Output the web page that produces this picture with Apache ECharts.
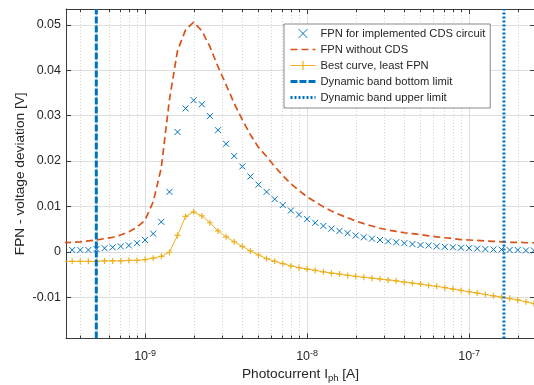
<!DOCTYPE html>
<html><head><meta charset="utf-8">
<script src="https://cdn.jsdelivr.net/npm/echarts@6/dist/echarts.min.js"></script>
<style>html,body{margin:0;padding:0;background:#fff}#c{width:534px;height:385px}</style>
</head><body><div id="c"></div>
<script>
// Photocurrent values (A), one every 0.05 decade
const currents = [
  3.162e-10, 3.548e-10, 3.981e-10, 4.467e-10, 5.012e-10, 5.623e-10, 6.310e-10, 7.079e-10, 7.943e-10, 8.913e-10,
  1.000e-9, 1.122e-9, 1.259e-9, 1.413e-9, 1.585e-9, 1.778e-9, 1.995e-9, 2.239e-9, 2.512e-9, 2.818e-9,
  3.162e-9, 3.548e-9, 3.981e-9, 4.467e-9, 5.012e-9, 5.623e-9, 6.310e-9, 7.079e-9, 7.943e-9, 8.913e-9,
  1.000e-8, 1.122e-8, 1.259e-8, 1.413e-8, 1.585e-8, 1.778e-8, 1.995e-8, 2.239e-8, 2.512e-8, 2.818e-8,
  3.162e-8, 3.548e-8, 3.981e-8, 4.467e-8, 5.012e-8, 5.623e-8, 6.310e-8, 7.079e-8, 7.943e-8, 8.913e-8,
  1.000e-7, 1.122e-7, 1.259e-7, 1.413e-7, 1.585e-7, 1.778e-7, 1.995e-7, 2.239e-7, 2.512e-7, 2.818e-7
];
const fpnCDS = [
  0.0004, 0.0004, 0.0004, 0.0004, 0.0006, 0.0008, 0.0010, 0.0012, 0.0014, 0.0019,
  0.0026, 0.0040, 0.0066, 0.0132, 0.0264, 0.0316, 0.0334, 0.0325, 0.0299, 0.0268,
  0.0238, 0.0211, 0.0188, 0.0166, 0.0148, 0.0132, 0.0116, 0.0103, 0.0091, 0.0082,
  0.0072, 0.0064, 0.0057, 0.0051, 0.0046, 0.0041, 0.0036, 0.0032, 0.0029, 0.0026,
  0.0023, 0.0021, 0.0019, 0.0017, 0.0015, 0.0014, 0.0012, 0.0011, 0.0010, 0.0009,
  0.0008, 0.0007, 0.0006, 0.0005, 0.0005, 0.0004, 0.0004, 0.0003, 0.0003, 0.0003
];
const fpnNoCDS = [
  0.0020, 0.0021, 0.0022, 0.0024, 0.0026, 0.0029, 0.0032, 0.0037, 0.0044, 0.0054,
  0.0070, 0.0110, 0.0185, 0.0335, 0.0443, 0.0489, 0.0506, 0.0487, 0.0452, 0.0408,
  0.0368, 0.0327, 0.0291, 0.0258, 0.0230, 0.0210, 0.0188, 0.0168, 0.0150, 0.0135,
  0.0121, 0.0110, 0.0099, 0.0090, 0.0082, 0.0075, 0.0068, 0.0062, 0.0057, 0.0052,
  0.0048, 0.0045, 0.0042, 0.0040, 0.0038, 0.0035, 0.0033, 0.0031, 0.0029, 0.0027,
  0.0026, 0.0025, 0.0024, 0.0023, 0.0022, 0.0021, 0.0021, 0.0020, 0.0020, 0.0019
];
const fpnBest = [
  -0.0021, -0.0021, -0.0021, -0.0021, -0.0021, -0.0020, -0.0020, -0.0020, -0.0019, -0.0019,
  -0.0017, -0.0014, -0.0010, -0.0001, 0.0036, 0.0078, 0.0088, 0.0079, 0.0064, 0.0046,
  0.0033, 0.0022, 0.0012, 0.0002, -0.0007, -0.0015, -0.0021, -0.0026, -0.0031, -0.0035,
  -0.0038, -0.0041, -0.0044, -0.0047, -0.0049, -0.0052, -0.0054, -0.0056, -0.0058, -0.0060,
  -0.0062, -0.0064, -0.0067, -0.0069, -0.0071, -0.0074, -0.0076, -0.0079, -0.0082, -0.0085,
  -0.0088, -0.0091, -0.0094, -0.0097, -0.0100, -0.0103, -0.0106, -0.0110, -0.0114, -0.0118
];
const bandBottom = 5e-10;
const bandUpper = 1.64e-7;
const seriesNames = [
  'FPN for implemented CDS circuit',
  'FPN without CDS',
  'Best curve, least FPN',
  'Dynamic band bottom limit',
  'Dynamic band upper limit'
];
const xLimits = [3.25e-10, 2.55e-7];
const yLimits = [-0.0191, 0.0535];
const xMajorTicks = [1e-9, 1e-8, 1e-7];
const xMinorTicks = [4e-10, 5e-10, 6e-10, 7e-10, 8e-10, 9e-10,
  2e-9, 3e-9, 4e-9, 5e-9, 6e-9, 7e-9, 8e-9, 9e-9,
  2e-8, 3e-8, 4e-8, 5e-8, 6e-8, 7e-8, 8e-8, 9e-8, 2e-7];
const yTicks = [-0.01, 0, 0.01, 0.02, 0.03, 0.04, 0.05];

const zip = (xs, ys) => xs.map((x, i) => [x, ys[i]]);
const AX = '#3a3a3a';
const TXT = '#262626';
const FONT = '"Liberation Sans", Arial, Helvetica, sans-serif';

const chart = echarts.init(document.getElementById('c'), null, {renderer: 'canvas'});

function xAxisBase(extra) {
  return Object.assign({
    type: 'log', logBase: 10, min: xLimits[0], max: xLimits[1],
    axisLine: {show: true, onZero: false, lineStyle: {color: AX, width: 1}},
    axisTick: {show: false},
    axisLabel: {show: false},
    splitLine: {show: false},
    minorTick: {show: false}, minorSplitLine: {show: false}
  }, extra);
}
function yAxisBase(extra) {
  return Object.assign({
    type: 'value', min: yLimits[0], max: yLimits[1],
    axisLine: {show: true, onZero: false, lineStyle: {color: AX, width: 1}},
    axisTick: {show: false},
    axisLabel: {show: false},
    splitLine: {show: false}
  }, extra);
}

const option = {
  animation: false,
  backgroundColor: '#fff',
  textStyle: {fontFamily: FONT},
  grid: {left: 66, top: 9, right: -1, bottom: 46.5, containLabel: false, outerBoundsMode: 'none'},
  xAxis: [
    xAxisBase({
      position: 'bottom',
      axisTick: {show: true, inside: true, length: 5, customValues: xMajorTicks, lineStyle: {color: AX}},
      axisLabel: {
        show: true, customValues: xMajorTicks, margin: 11, color: TXT, fontFamily: FONT,
        formatter: v => '{b|10}{s|' + Math.round(Math.log10(v)) + '}',
        rich: {
          b: {fontSize: 12.5, color: TXT, fontFamily: FONT},
          s: {fontSize: 9, color: TXT, fontFamily: FONT, padding: [0, 0, 6, 0]}
        }
      },
      splitLine: {show: true, lineStyle: {color: '#dedede', width: 1}},
      name: 'Photocurrent I{sub|ph} [A]',
      nameLocation: 'middle', nameGap: 26, nameMoveOverlap: false,
      nameTextStyle: {fontSize: 13.7, color: TXT, fontFamily: FONT,
        rich: {sub: {fontSize: 9.5, color: TXT, fontFamily: FONT, padding: [9, 0, 0, 0]}}}
    }),
    xAxisBase({
      position: 'bottom',
      axisLine: {show: false, onZero: false},
      axisTick: {show: true, inside: true, length: 3, customValues: xMinorTicks, lineStyle: {color: AX}},
      splitLine: {show: true, lineStyle: {color: '#d4d4d4', width: 1, type: [1, 2]}}
    }),
    xAxisBase({
      position: 'top',
      axisTick: {show: true, inside: true, length: 5, customValues: xMajorTicks, lineStyle: {color: AX}}
    }),
    xAxisBase({
      position: 'top',
      axisLine: {show: false, onZero: false},
      axisTick: {show: true, inside: true, length: 3, customValues: xMinorTicks, lineStyle: {color: AX}}
    })
  ],
  yAxis: [
    yAxisBase({
      position: 'left',
      axisTick: {show: true, inside: true, length: 5, customValues: yTicks, lineStyle: {color: AX}},
      axisLabel: {show: true, customValues: yTicks, margin: 5, fontSize: 12.5, color: TXT, fontFamily: FONT,
        formatter: v => (Math.abs(v) < 1e-12 ? '0' : String(+v.toFixed(2)))},
      splitLine: {show: true, lineStyle: {color: '#dedede', width: 1}},
      name: 'FPN - voltage deviation [V]',
      nameLocation: 'middle', nameGap: 39, nameRotate: 90, nameMoveOverlap: false,
      nameTextStyle: {fontSize: 13.7, color: TXT, fontFamily: FONT}
    }),
    yAxisBase({
      position: 'right',
      axisTick: {show: true, inside: true, length: 5, customValues: yTicks, lineStyle: {color: AX}}
    })
  ],
  legend: {
    orient: 'vertical', left: 284, top: 24,
    padding: [4, 5, 5, 5], itemGap: 5, itemWidth: 25, itemHeight: 11,
    backgroundColor: '#fff', borderColor: '#3a3a3a', borderWidth: 0.6, borderRadius: 0,
    textStyle: {fontSize: 11.2, color: TXT, fontFamily: FONT},
    itemStyle: {borderWidth: 'inherit'},
    lineStyle: {width: 'inherit'},
    data: [
      {name: seriesNames[0]},
      {name: seriesNames[1], itemStyle: {opacity: 0}},
      {name: seriesNames[2]},
      {name: seriesNames[3], itemStyle: {opacity: 0}},
      {name: seriesNames[4], itemStyle: {opacity: 0}}
    ]
  },
  series: [
    {
      name: seriesNames[0], type: 'line', data: zip(currents, fpnCDS),
      symbol: 'path://M0,0L10,10M10,0L0,10', symbolSize: 6, showSymbol: true,
      itemStyle: {color: '#0072BD', borderColor: '#0072BD', borderWidth: 1},
      lineStyle: {width: 0, opacity: 0}, clip: true, z: 3
    },
    {
      name: seriesNames[1], type: 'line', data: zip(currents, fpnNoCDS),
      symbol: 'none', itemStyle: {color: '#D95319'},
      lineStyle: {color: '#D95319', width: 1.7, type: [7, 4]}, clip: true, z: 3
    },
    {
      name: seriesNames[2], type: 'line', data: zip(currents, fpnBest),
      symbol: 'path://M5,0L5,10M0,5L10,5', symbolSize: 6, showSymbol: true,
      itemStyle: {color: '#EDB120', borderColor: '#EDB120', borderWidth: 1.2},
      lineStyle: {color: '#EDB120', width: 1}, clip: true, z: 3
    },
    {
      name: seriesNames[3], type: 'line', data: [[bandBottom, yLimits[0]], [bandBottom, yLimits[1]]],
      symbol: 'none', itemStyle: {color: '#0072BD'},
      lineStyle: {color: '#0072BD', width: 3, type: [7, 2]}, clip: true, z: 4
    },
    {
      name: seriesNames[4], type: 'line', data: [[bandUpper, yLimits[0]], [bandUpper, yLimits[1]]],
      symbol: 'none', itemStyle: {color: '#0072BD'},
      lineStyle: {color: '#0072BD', width: 3, type: [2, 2]}, clip: true, z: 4
    }
  ]
};
chart.setOption(option);
</script>
</body></html>
